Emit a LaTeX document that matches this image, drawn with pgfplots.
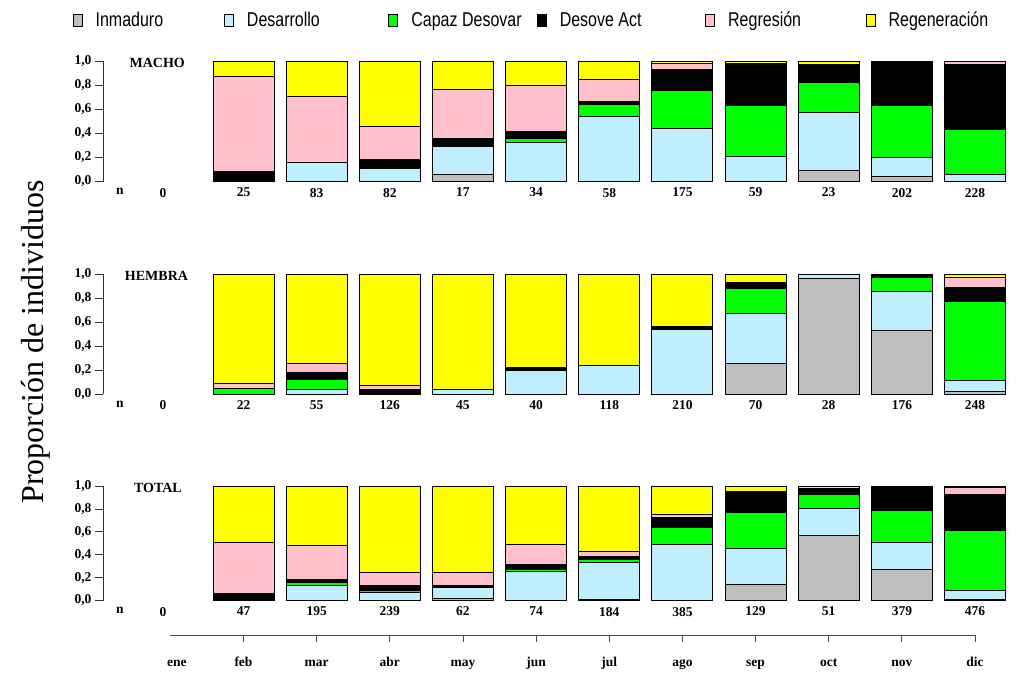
\documentclass[border=0pt]{standalone}
\usepackage{fontspec}
\setmainfont{Liberation Serif}
\newfontfamily\legfont[FakeStretch=0.8]{Liberation Sans}
\usepackage{pgfplots}
\usepackage{pgfplotstable}
\pgfplotsset{compat=1.18}

\definecolor{cgray}{HTML}{BEBEBE}
\definecolor{cblue}{HTML}{BFEFFF}
\definecolor{cgreen}{HTML}{00FF00}
\definecolor{cblack}{HTML}{000000}
\definecolor{cpink}{HTML}{FFC0CB}
\definecolor{cyellow}{HTML}{FFFF00}

% columns: month index, Inmaduro, Desarrollo, Capaz Desovar, Desove Act, Regresion, Regeneracion
\pgfplotstableread{
x gray blue green black pink yellow
1 0 0 0 0.08 0.795 0.125
2 0 0.157 0 0 0.545 0.298
3 0 0.11 0 0.075 0.27 0.545
4 0.059 0.235 0 0.059 0.412 0.235
5 0 0.324 0.029 0.059 0.382 0.206
6 0 0.54 0.095 0.025 0.187 0.153
7 0 0.436 0.322 0.175 0.047 0.02
8 0 0.205 0.422 0.356 0 0.017
9 0.09 0.48 0.252 0.145 0 0.033
10 0.04 0.16 0.43 0.37 0 0
11 0 0.058 0.372 0.537 0.033 0
}\macho

\pgfplotstableread{
x gray blue green black pink yellow
1 0 0 0.045 0 0.045 0.91
2 0 0.036 0.091 0.055 0.073 0.745
3 0 0 0 0.036 0.036 0.928
4 0 0.044 0 0 0 0.956
5 0 0.2 0 0.025 0 0.775
6 0 0.237 0 0 0 0.763
7 0 0.536 0.014 0.014 0 0.436
8 0.257 0.414 0.214 0.043 0 0.072
9 0.964 0.036 0 0 0 0
10 0.53 0.33 0.115 0.025 0 0
11 0.02 0.094 0.658 0.117 0.083 0.028
}\hembra

\pgfplotstableread{
x gray blue green black pink yellow
1 0 0 0 0.064 0.447 0.489
2 0 0.134 0.023 0.027 0.297 0.519
3 0 0.07 0.015 0.043 0.12 0.752
4 0.016 0.097 0 0.016 0.113 0.758
5 0 0.257 0.013 0.041 0.175 0.514
6 0.01 0.322 0.03 0.026 0.043 0.569
7 0 0.486 0.156 0.085 0.023 0.25
8 0.14 0.318 0.31 0.186 0 0.046
9 0.569 0.235 0.118 0.059 0 0.019
10 0.267 0.237 0.282 0.214 0 0
11 0.011 0.076 0.521 0.317 0.06 0.015
}\total

\newcommand{\stackbars}[1]{%
  \addplot[fill=cgray] table[x=x,y=gray]{#1};
  \addplot[fill=cblue] table[x=x,y=blue]{#1};
  \addplot[fill=cgreen] table[x=x,y=green]{#1};
  \addplot[fill=cblack] table[x=x,y=black]{#1};
  \addplot[fill=cpink] table[x=x,y=pink]{#1};
  \addplot[fill=cyellow] table[x=x,y=yellow]{#1};
}

\pgfplotsset{
  panel/.style={
    anchor=south west,
    x=73.15pt,
    xmin=-0.921, xmax=11.45, ymin=0, ymax=1,
    clip=false,
    ybar stacked, bar width=0.834,
    every axis plot/.append style={draw=black, line width=1pt},
    axis y line*=left, axis x line*=bottom,
    x axis line style={draw=none},
    y axis line style={line width=0.8pt, black!80},
    ytick={0,0.2,0.4,0.6,0.8,1},
    tick align=outside, major tick length=8pt,
    ytick style={line width=0.8pt, black!80},
    xtick style={draw=none},
    yticklabel style={font={\fontsize{13.5}{15}\selectfont\bfseries},
      /pgf/number format/.cd, fixed, fixed zerofill, precision=1, use comma, assume math mode=true},
    xtick={-0.69,-0.1,1,2,3,4,5,6,7,8,9,10,11},
    xticklabel style={font={\fontsize{13.5}{15}\selectfont\bfseries}, anchor=north, yshift=5pt},
  },
  legimg/.style={legend image code/.code={%
    \draw[draw=black, line width=0.8pt, fill=#1] (0pt,-6pt) rectangle (9pt,6pt);
    \path[draw=none, fill=none] (0pt,0pt) rectangle (22.5pt,0.1pt);}},
}

\begin{document}
\begin{tikzpicture}
\useasboundingbox (0pt,0pt) rectangle (1017pt,-675pt);

% MACHO
\begin{axis}[panel, at={(103pt,-181.5pt)}, y=120.5pt,
  xticklabels={n,0,25,83,82,17,34,58,175,59,23,202,228},
  legend columns=6, legend cell align=left,
  legend style={draw=none, fill=none, inner sep=0pt, column sep=0pt,
    nodes={inner sep=0pt, anchor=west},
    font={\legfont\fontsize{20}{20}\selectfont},
    at={(axis description cs:-0.0337,1.34)}, anchor=west}]
  \addlegendimage{legimg=cgray}\addlegendentry{\makebox[128.5pt][l]{Inmaduro}}
  \addlegendimage{legimg=cblue}\addlegendentry{\makebox[141.5pt][l]{Desarrollo}}
  \addlegendimage{legimg=cgreen}\addlegendentry{\makebox[125.5pt][l]{Capaz Desovar}}
  \addlegendimage{legimg=cblack}\addlegendentry{\makebox[145.5pt][l]{Desove Act}}
  \addlegendimage{legimg=cpink}\addlegendentry{\makebox[137.5pt][l]{Regresión}}
  \addlegendimage{legimg=cyellow}\addlegendentry{Regeneración}
  \stackbars{\macho}
  \node[font={\fontsize{14}{16}\selectfont\bfseries}] at (axis cs:-0.18,0.985) {MACHO};
\end{axis}

% HEMBRA
\begin{axis}[panel, at={(103pt,-394.3pt)}, y=120pt,
  xticklabels={n,0,22,55,126,45,40,118,210,70,28,176,248}]
  \stackbars{\hembra}
  \node[font={\fontsize{14}{16}\selectfont\bfseries}] at (axis cs:-0.19,0.985) {HEMBRA};
\end{axis}

% TOTAL
\begin{axis}[panel, at={(103pt,-600.5pt)}, y=114.5pt,
  xticklabels={n,0,47,195,239,62,74,184,385,129,51,379,476}]
  \stackbars{\total}
  \node[font={\fontsize{14}{16}\selectfont\bfseries}] at (axis cs:-0.17,0.985) {TOTAL};
\end{axis}

% month axis
\begin{axis}[at={(170.35pt,-635pt)}, anchor=south west, x=73.15pt, y=1pt,
  xmin=0, xmax=11, ymin=0, ymax=1, clip=false,
  axis y line=none, axis x line*=bottom,
  x axis line style={line width=0.8pt, black!70},
  xtick={1,2,3,4,5,6,7,8,9,10,11},
  xticklabels={feb,mar,abr,may,jun,jul,ago,sep,oct,nov,dic},
  extra x ticks={0.09}, extra x tick labels={ene},
  extra x tick style={major tick length=0pt, xticklabel style={yshift=-7pt}},
  tick align=outside, major tick length=7pt,
  xtick style={line width=0.8pt, black!70},
  xticklabel style={font={\fontsize{13.5}{15}\selectfont\bfseries}, anchor=base, yshift=-24pt}]
  \addplot[draw=none] coordinates {(0,0) (11,0)};
\end{axis}

\node[rotate=90, font={\fontsize{32}{32}\selectfont}] at (36pt,-342pt) {Proporción de individuos};
\end{tikzpicture}
\end{document}
